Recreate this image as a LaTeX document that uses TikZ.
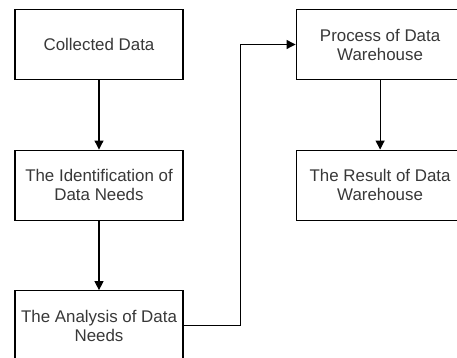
\documentclass[tikz,border=0pt]{standalone}
\usepackage{fontspec}
\setmainfont{Liberation Sans}
\usetikzlibrary{positioning, arrows.meta}

\begin{document}
\begin{tikzpicture}[node distance=69.5pt and 112pt, b/.style={rectangle, draw, line width=1.1pt, minimum width=168pt, minimum height=70pt, inner sep=0pt, align=center, text=black!78, font=\fontsize{16.9}{19}\selectfont}, a/.style={-{Stealth[length=9pt, width=9pt, inset=0pt]}, line width=1.1pt}]
		\useasboundingbox (0,0) rectangle (457pt,-358pt);
		\clip (0,0) rectangle (457pt,-358pt);
		\node[b] (C) at (99pt,-44.5pt) {Collected Data};
		\node[b, below=of C] (I) {The Identification of\\Data Needs};
		\node[b, below=of I] (An) {The Analysis of Data\\Needs};
		\node[b, right=of C] (P) {Process of Data\\Warehouse};
		\node[b, below=of P] (R) {The Result of Data\\Warehouse};


		\path[a] (C) edge (I);
		\path[a] (I) edge (An);
		\path[a] (P) edge (R);
		\draw[a] (An.east) -- ++(57pt,0) |- (P.west);
	\end{tikzpicture}
\end{document}
